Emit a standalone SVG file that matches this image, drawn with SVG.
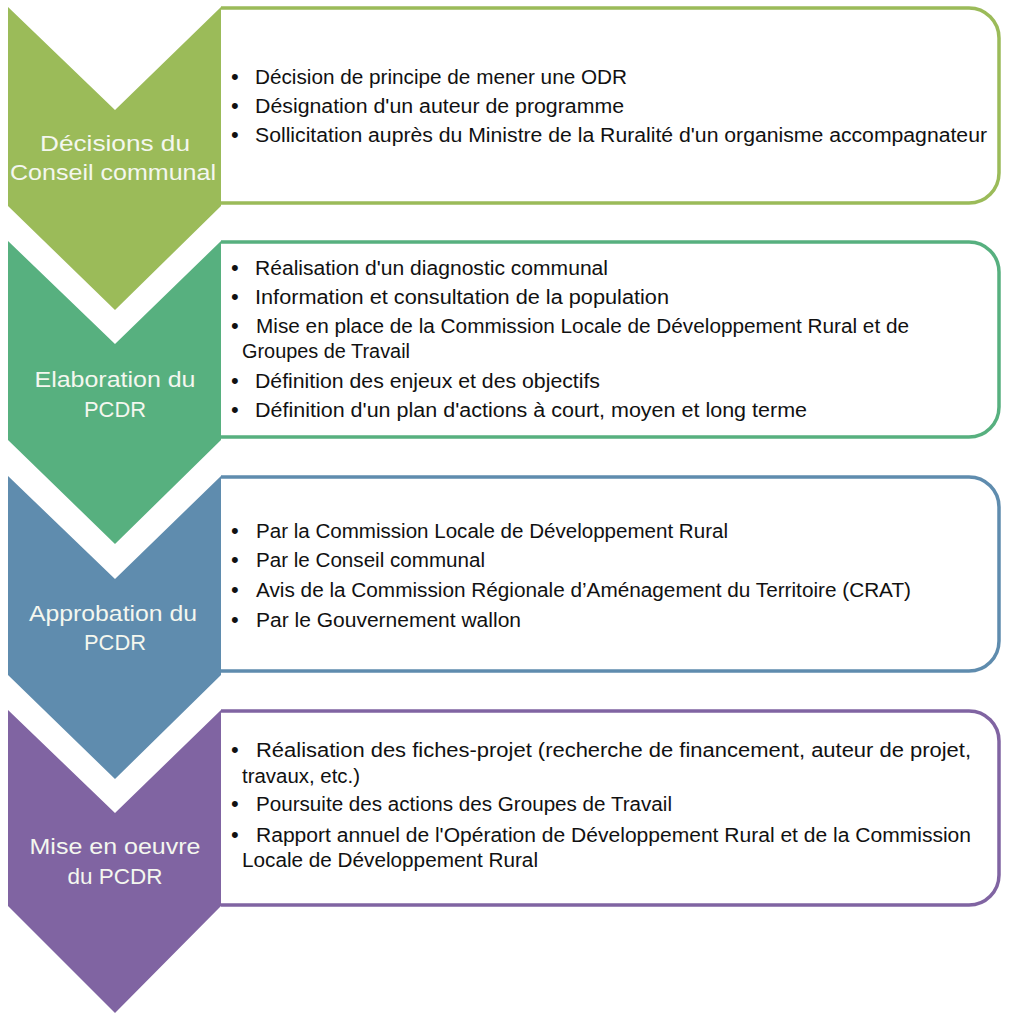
<svg xmlns="http://www.w3.org/2000/svg" width="1009" height="1024" viewBox="0 0 1009 1024">
<style>
.box{fill:#ffffff;stroke-width:3.5}
.lbl{font-family:"Liberation Sans",Arial,sans-serif;font-size:22px;fill:#F4F7EF;text-anchor:middle}
.t{font-family:"Liberation Sans",Arial,sans-serif;font-size:19.5px;fill:#111111}
.b{font-family:"Liberation Sans",Arial,sans-serif;font-size:22px;fill:#111111}
</style>
<rect width="1009" height="1024" fill="#ffffff"/>
<g id="connectors"/>
<g id="step1">
<path class="box" stroke="#9BBB59" d="M221,8 H969 A30,30 0 0 1 999,38 V173 A30,30 0 0 1 969,203 H221"/>
<polygon fill="#9BBB59" points="8,7 115,110 221,7 221,206 115,310 8,206"/>
<text class="lbl" x="115" y="151" textLength="150" lengthAdjust="spacingAndGlyphs">Décisions du</text>
<text class="lbl" x="113" y="180" textLength="206" lengthAdjust="spacingAndGlyphs">Conseil communal</text>
<text class="b" x="231" y="84">•</text>
<text class="b" x="231" y="113">•</text>
<text class="b" x="231" y="142">•</text>
<text class="t" x="255" y="84" textLength="372" lengthAdjust="spacingAndGlyphs">Décision de principe de mener une ODR</text>
<text class="t" x="255" y="113" textLength="369" lengthAdjust="spacingAndGlyphs">Désignation d'un auteur de programme</text>
<text class="t" x="255" y="142" textLength="732" lengthAdjust="spacingAndGlyphs">Sollicitation auprès du Ministre de la Ruralité d'un organisme accompagnateur</text>
</g>
<g id="step2">
<path class="box" stroke="#57B07F" d="M221,242 H969 A30,30 0 0 1 999,272 V407 A30,30 0 0 1 969,437 H221"/>
<polygon fill="#57B07F" points="8,241 115,344 221,241 221,440 115,544 8,440"/>
<text class="lbl" x="115" y="387" textLength="161" lengthAdjust="spacingAndGlyphs">Elaboration du</text>
<text class="lbl" x="115" y="417" textLength="62" lengthAdjust="spacingAndGlyphs">PCDR</text>
<text class="b" x="231" y="275">•</text>
<text class="b" x="231" y="304">•</text>
<text class="b" x="231" y="333">•</text>
<text class="b" x="231" y="388">•</text>
<text class="b" x="231" y="417">•</text>
<text class="t" x="255" y="275" textLength="353" lengthAdjust="spacingAndGlyphs">Réalisation d'un diagnostic communal</text>
<text class="t" x="255" y="304" textLength="414" lengthAdjust="spacingAndGlyphs">Information et consultation de la population</text>
<text class="t" x="256" y="333" textLength="653" lengthAdjust="spacingAndGlyphs">Mise en place de la Commission Locale de Développement Rural et de</text>
<text class="t" x="242" y="358" textLength="168" lengthAdjust="spacingAndGlyphs">Groupes de Travail</text>
<text class="t" x="255" y="388" textLength="345" lengthAdjust="spacingAndGlyphs">Définition des enjeux et des objectifs</text>
<text class="t" x="255" y="417" textLength="552" lengthAdjust="spacingAndGlyphs">Définition d'un plan d'actions à court, moyen et long terme</text>
</g>
<g id="step3">
<path class="box" stroke="#5F8CAE" d="M221,477 H969 A30,30 0 0 1 999,507 V641 A30,30 0 0 1 969,671 H221"/>
<polygon fill="#5F8CAE" points="8,476 115,579 221,476 221,675 115,779 8,675"/>
<text class="lbl" x="113" y="621" textLength="168" lengthAdjust="spacingAndGlyphs">Approbation du</text>
<text class="lbl" x="115" y="650" textLength="62" lengthAdjust="spacingAndGlyphs">PCDR</text>
<text class="b" x="231" y="538">•</text>
<text class="b" x="231" y="567">•</text>
<text class="b" x="231" y="597">•</text>
<text class="b" x="231" y="627">•</text>
<text class="t" x="256" y="538" textLength="472" lengthAdjust="spacingAndGlyphs">Par la Commission Locale de Développement Rural</text>
<text class="t" x="256" y="567" textLength="229" lengthAdjust="spacingAndGlyphs">Par le Conseil communal</text>
<text class="t" x="256" y="597" textLength="655" lengthAdjust="spacingAndGlyphs">Avis de la Commission Régionale d’Aménagement du Territoire (CRAT)</text>
<text class="t" x="256" y="627" textLength="265" lengthAdjust="spacingAndGlyphs">Par le Gouvernement wallon</text>
</g>
<g id="step4">
<path class="box" stroke="#8064A2" d="M221,711 H969 A30,30 0 0 1 999,741 V875 A30,30 0 0 1 969,905 H221"/>
<polygon fill="#8064A2" points="8,710 115,813 221,710 221,906 115,1013 8,906"/>
<text class="lbl" x="115" y="854" textLength="171" lengthAdjust="spacingAndGlyphs">Mise en oeuvre</text>
<text class="lbl" x="115" y="884" textLength="95" lengthAdjust="spacingAndGlyphs">du PCDR</text>
<text class="b" x="231" y="757">•</text>
<text class="b" x="231" y="811">•</text>
<text class="b" x="231" y="842">•</text>
<text class="t" x="256" y="757" textLength="715" lengthAdjust="spacingAndGlyphs">Réalisation des fiches-projet (recherche de financement, auteur de projet,</text>
<text class="t" x="242" y="783" textLength="118" lengthAdjust="spacingAndGlyphs">travaux, etc.)</text>
<text class="t" x="256" y="811" textLength="416" lengthAdjust="spacingAndGlyphs">Poursuite des actions des Groupes de Travail</text>
<text class="t" x="256" y="842" textLength="715" lengthAdjust="spacingAndGlyphs">Rapport annuel de l'Opération de Développement Rural et de la Commission</text>
<text class="t" x="242" y="867" textLength="296" lengthAdjust="spacingAndGlyphs">Locale de Développement Rural</text>
</g>
</svg>
